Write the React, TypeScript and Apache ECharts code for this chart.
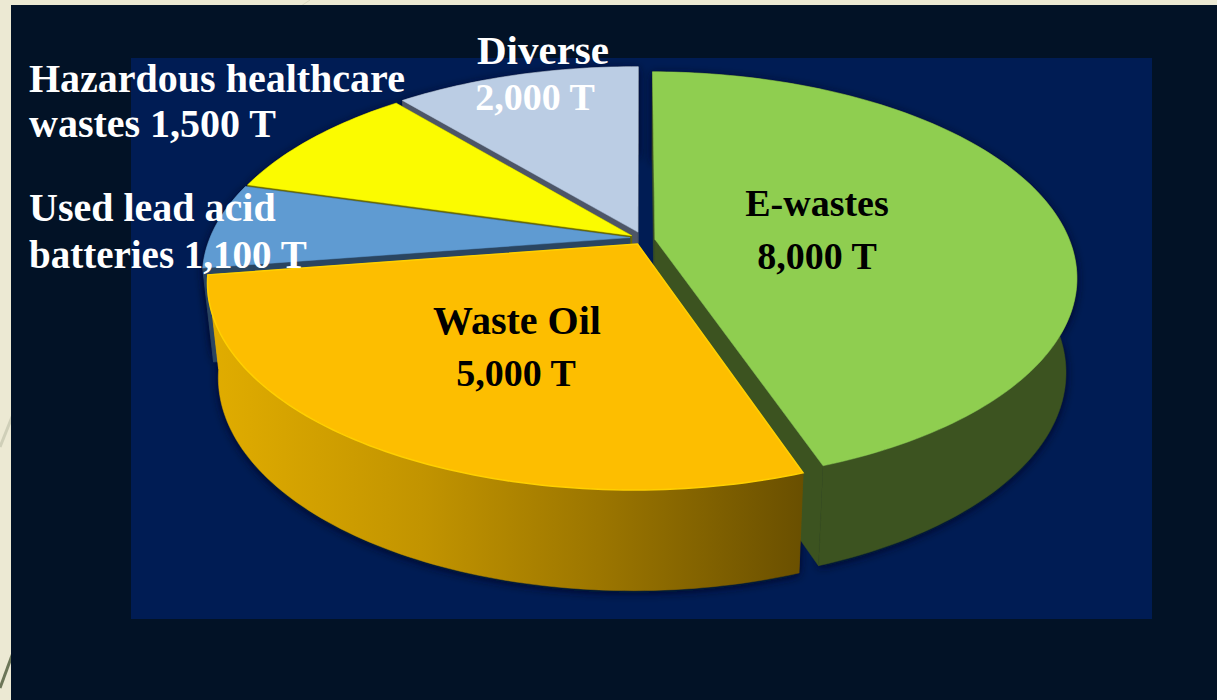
import React, { useEffect, useRef } from "react";
import * as echarts from "echarts";

// Clockwise from twelve o'clock.
const categories = ["E-wastes", "Waste Oil", "Used lead acid batteries", "Hazardous healthcare wastes", "Diverse"];
// Slice sizes estimated from the angles drawn in the picture. Two of them differ
// from the tonnage printed beside the slice (1,100 T and 1,500 T): the printed text is kept as it is.
const sliceValues = [8000, 5000, 1200, 1700, 2000];
const labelLines = [
  ["E-wastes", "8,000 T"],
  ["Waste Oil", "5,000 T"],
  ["Used lead acid", "batteries 1,100 T"],
  ["Hazardous healthcare", "wastes 1,500 T"],
  ["Diverse", "2,000 T"],
];
const topColors = ["#8FCE50", "#FDBE00", "#5F9BD2", "#FBFB00", "#BBCDE4"];
const wallColors = ["#3C5320", "", "#2A4560", "#6B6B00", "#4D5667"];
const labelColors = ["#000000", "#000000", "#FFFFFF", "#FFFFFF", "#FFFFFF"];
const labelAligns = ["center", "center", "left", "left", "center"];
const labelX = [[817, 817], [517, 516], [29, 29], [29, 29], [543, 535]];
const labelY = [[203, 256], [320, 373], [207, 254], [78, 123], [50, 97]];
const labelSize = [[38, 38], [40, 38], [40, 39], [40, 40], [41, 38]];
const explodeU = [0.0355, -0.006, -0.024, -0.02, -0.005];
const explodeV = [0.006, 0.03, -0.002, -0.012, -0.03];
const wallOrder = [3, 4, 2, 1, 0];

const total = sliceValues.reduce((a, b) => a + b, 0);
const toAngle = (v: number) => (v / total) * Math.PI * 2;
const onDisk = (a: number) => [Math.sin(a), -Math.cos(a)];

// Perspective of the pie's plane: near rim larger than far rim
const CX = 640;
const CY = 238;
const RX = 417;
const RY = 198;
const TILT = 0.185;
const SKEW = 0.007;
const project = (u: number, v: number) => {
  const w = 1 - TILT * v + SKEW * u;
  return [CX + (RX * u) / w, CY + (RY * v) / w];
};
const drop = ([x, y]: number[]) => [CX + (x - CX) * 0.975, y + 88 + 0.03 * (y - 67)];

const orangeWall = {
  type: "linear",
  x: 215,
  y: 0,
  x2: 805,
  y2: 0,
  global: true,
  colorStops: [
    { offset: 0, color: "#E0AC00" },
    { offset: 0.35, color: "#C29400" },
    { offset: 0.65, color: "#9C7600" },
    { offset: 1, color: "#694F00" },
  ],
};

function renderSlice(params: any, api: any) {
  const i = params.dataIndex;
  const value = api.value(0);
  const before = sliceValues.slice(0, i).reduce((a, b) => a + b, 0);
  const a0 = toAngle(before);
  const a1 = a0 + toAngle(value);
  const ox = explodeU[i];
  const oy = explodeV[i];
  const arc: number[][] = [];
  const steps = Math.max(6, Math.ceil((a1 - a0) / 0.02));
  for (let s = 0; s <= steps; s++) {
    const [u, v] = onDisk(a0 + ((a1 - a0) * s) / steps);
    arc.push(project(u + ox, v + oy));
  }
  const apex = project(ox, oy);
  const wallFill: any = i === 1 ? orangeWall : wallColors[i];
  const wallZ = 10 + wallOrder[i];
  const wall = (pts: number[][]) => ({
    type: "polygon",
    z2: wallZ,
    shape: { points: pts },
    style: { fill: wallFill, stroke: wallFill, lineWidth: 0.5 },
  });
  const rim = [...arc, ...arc.map(drop).reverse()];
  const first = arc[0];
  const last = arc[arc.length - 1];
  const children: any[] = [
    // Shadow caster stays under every wall, so it only falls on the backdrop.
    {
      type: "polygon",
      z2: 5,
      shape: { points: rim },
      style: { fill: "#00102F", shadowBlur: 10, shadowColor: "rgba(0,8,32,0.95)", shadowOffsetY: 2 },
    },
    wall(rim),
    wall([apex, first, drop(first), drop(apex)]),
    wall([apex, last, drop(last), drop(apex)]),
    {
      type: "polygon",
      z2: 100,
      shape: { points: [apex, ...arc] },
      style: {
        fill: topColors[i],
        stroke: i === 1 ? "#FFD000" : topColors[i],
        lineWidth: i === 1 ? 1.5 : 0.5,
      },
    },
  ];
  labelLines[i].forEach((line, k) => {
    children.push({
      type: "text",
      z2: 200,
      style: {
        text: line,
        x: labelX[i][k],
        y: labelY[i][k],
        fill: labelColors[i],
        font: `bold ${labelSize[i][k]}px "Liberation Serif", serif`,
        align: labelAligns[i],
        verticalAlign: "middle",
      },
    });
  });
  return { type: "group", children };
}

const option: any = {
  animation: false,
  backgroundColor: "#ECE9D3",
  graphic: {
    elements: [
      { type: "line", z: -3, silent: true, shape: { x1: 0, y1: 447, x2: 14, y2: 412 }, style: { stroke: "#CFCFB8", lineWidth: 3 } },
      { type: "line", z: -3, silent: true, shape: { x1: 0, y1: 688, x2: 14, y2: 650 }, style: { stroke: "#6C7658", lineWidth: 3 } },
      { type: "line", z: -3, silent: true, shape: { x1: 298, y1: 8, x2: 310, y2: 0 }, style: { stroke: "#D8D6BE", lineWidth: 1 } },
      { type: "rect", z: -2, silent: true, shape: { x: 11, y: 5, width: 1206, height: 695 }, style: { fill: "#021226" } },
      { type: "rect", z: -1, silent: true, shape: { x: 131, y: 58, width: 1021, height: 561 }, style: { fill: "#001C54" } },
    ],
  },
  series: [
    {
      type: "custom",
      coordinateSystem: "none",
      silent: true,
      renderItem: renderSlice,
      data: sliceValues.map((v, i) => ({ name: categories[i], value: [v] })),
    },
  ],
};

export default function App() {
  const ref = useRef<HTMLDivElement>(null);
  useEffect(() => {
    const chart = echarts.init(ref.current!, undefined, { renderer: "svg" });
    chart.setOption(option);
    return () => chart.dispose();
  }, []);
  return <div ref={ref} style={{ position: "fixed", left: 0, top: 0, width: 1217, height: 700 }} />;
}
